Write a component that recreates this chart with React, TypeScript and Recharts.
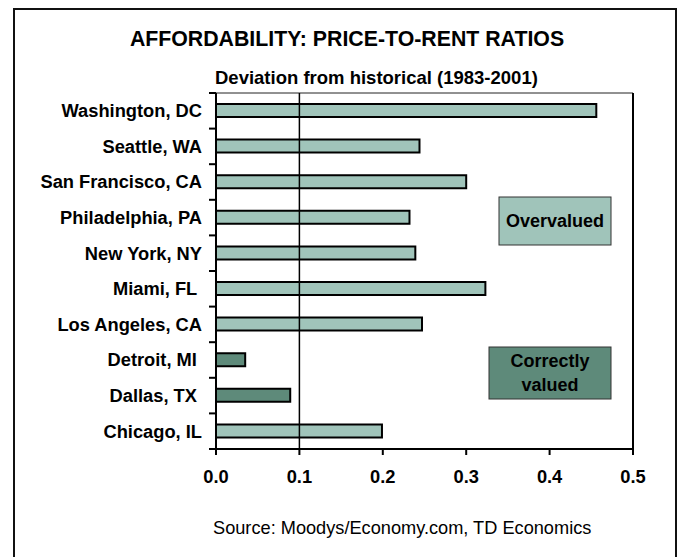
import React from 'react';
import { BarChart, Bar, XAxis, YAxis, Cell, ReferenceLine, ReferenceArea } from 'recharts';

const cities = ['Washington, DC', 'Seattle, WA', 'San Francisco, CA', 'Philadelphia, PA', 'New York, NY', 'Miami, FL ', 'Los Angeles, CA', 'Detroit, MI ', 'Dallas, TX ', 'Chicago, IL'];
const ratios = [0.456, 0.244, 0.300, 0.232, 0.239, 0.323, 0.247, 0.035, 0.089, 0.199];
const valuation = ['over', 'over', 'over', 'over', 'over', 'over', 'over', 'correct', 'correct', 'over'];
const xTicks = [0, 0.1, 0.2, 0.3, 0.4, 0.5];

const FONT = '"Liberation Sans", Arial, sans-serif';
const LIGHT = '#A0C4BA';
const DARK = '#5E8A7A';
const TICK_SIZE = 7;
const TICK_MARGIN = 7;
const CHART_W = 678;
const CHART_H = 557;
const MARGIN = { top: 93, right: 45, left: 0, bottom: 68 };
const X_AXIS_H = 40;
const Y_AXIS_W = 216;
const AXIS_X = MARGIN.left + Y_AXIS_W;
const PLOT_H = CHART_H - MARGIN.top - MARGIN.bottom - X_AXIS_H;
const BAND = PLOT_H / cities.length;

const data = cities.map((c, i) => ({ city: c, value: ratios[i], kind: valuation[i] }));

function CityTick(props: any) {
  const { x, y, payload } = props;
  return (
    <text x={x} y={y} dy="0.355em" textAnchor="end" fontFamily={FONT} fontSize={18.3} fontWeight="bold" fill="#000" style={{ whiteSpace: 'pre' }}>
      {payload.value}
    </text>
  );
}

export default function App() {
  return (
    <div style={{ position: 'absolute', left: 0, top: 0, width: 678, height: 557, overflow: 'hidden', background: '#fff' }}>
      <svg width={678} height={557} style={{ position: 'absolute', left: 0, top: 0 }}>
        <rect x={14} y={9} width={662} height={600} fill="none" stroke="#111" strokeWidth={2} />
      </svg>
      <div style={{ position: 'absolute', left: 0, top: 0 }}>
        <BarChart width={CHART_W} height={CHART_H} data={data} layout="vertical" margin={MARGIN}>
          <ReferenceArea x1={0} x2={0.5} fill="none" fillOpacity={0} stroke="#222" strokeWidth={1} />
          <XAxis
            type="number"
            dataKey="value"
            domain={[0, 0.5]}
            ticks={xTicks}
            tickFormatter={(v: number) => v.toFixed(1)}
            height={X_AXIS_H}
            tickSize={6}
            tickMargin={15}
            axisLine={{ stroke: '#000', strokeWidth: 2 }}
            tickLine={{ stroke: '#000', strokeWidth: 2 }}
            tick={{ fontFamily: FONT, fontSize: 18.3, fontWeight: 'bold', fill: '#000' }}
          />
          <YAxis
            type="category"
            dataKey="city"
            width={Y_AXIS_W}
            tickSize={TICK_SIZE}
            tickMargin={TICK_MARGIN}
            tickLine={false}
            axisLine={{ stroke: '#000', strokeWidth: 2 }}
            tick={CityTick}
            interval={0}
          />
          <Bar dataKey="value" barSize={13} stroke="#000" strokeWidth={2} isAnimationActive={false}>
            {data.map((d, i) => (
              <Cell key={i} fill={d.kind === 'over' ? LIGHT : DARK} />
            ))}
          </Bar>
          <ReferenceLine x={0.1} stroke="#000" strokeWidth={1.5} />
          <ReferenceLine x={0.5} stroke="#000" strokeWidth={2} />
        </BarChart>
      </div>
      <svg width={678} height={557} style={{ position: 'absolute', left: 0, top: 0, pointerEvents: 'none' }}>
        {Array.from({ length: cities.length + 1 }, (_, i) => (
          <rect
            key={i}
            x={AXIS_X - TICK_SIZE}
            y={MARGIN.top + i * BAND - 1}
            width={TICK_SIZE}
            height={2}
            fill="#000"
          />
        ))}
        <text x={347} y={46} textAnchor="middle" fontFamily={FONT} fontSize={21.3} fontWeight="bold" fill="#000">
          AFFORDABILITY: PRICE-TO-RENT RATIOS
        </text>
        <text x={215} y={84} fontFamily={FONT} fontSize={18.5} fontWeight="bold" fill="#000">
          Deviation from historical (1983-2001)
        </text>
        <text x={213} y={534} fontFamily={FONT} fontSize={18.2} fill="#000">
          Source: Moodys/Economy.com, TD Economics
        </text>
        <rect x={499} y={197} width={112} height={48} fill={LIGHT} stroke="#333" strokeWidth={1} />
        <text x={555} y={227} textAnchor="middle" fontFamily={FONT} fontSize={18} fontWeight="bold" fill="#000">
          Overvalued
        </text>
        <rect x={489} y={347} width={122} height={52} fill={DARK} stroke="#333" strokeWidth={1} />
        <text x={550} y={367} textAnchor="middle" fontFamily={FONT} fontSize={18} fontWeight="bold" fill="#000">
          Correctly
        </text>
        <text x={550} y={391} textAnchor="middle" fontFamily={FONT} fontSize={18} fontWeight="bold" fill="#000">
          valued
        </text>
      </svg>
    </div>
  );
}
